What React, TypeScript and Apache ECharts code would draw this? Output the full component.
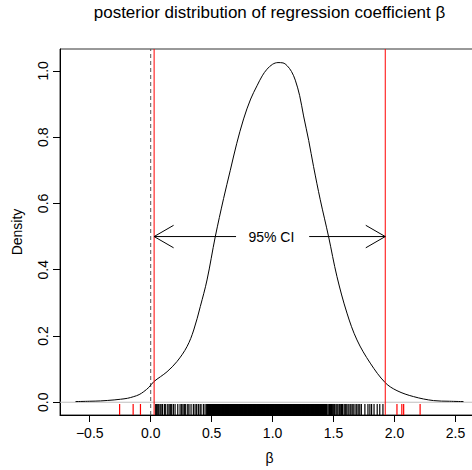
import React, { useEffect, useRef } from "react";
import * as echarts from "echarts";

// Density curve of posterior draws
const densityX = [-0.617, -0.5, -0.412, -0.3, -0.248, -0.19, -0.139, -0.095, -0.057, -0.015, 0.025, 0.08, 0.134, 0.216, 0.298, 0.353, 0.407, 0.462, 0.53, 0.598, 0.653, 0.705, 0.762, 0.82, 0.872, 0.915, 0.954, 1.0, 1.044, 1.085, 1.118, 1.155, 1.186, 1.222, 1.254, 1.296, 1.336, 1.391, 1.459, 1.528, 1.61, 1.692, 1.801, 1.924, 2.02, 2.156, 2.32, 2.45, 2.566];
const densityY = [0.002, 0.003, 0.004, 0.007, 0.009, 0.012, 0.017, 0.023, 0.032, 0.045, 0.062, 0.077, 0.092, 0.123, 0.168, 0.218, 0.289, 0.369, 0.5, 0.615, 0.7, 0.78, 0.855, 0.915, 0.955, 0.985, 1.005, 1.02, 1.025, 1.024, 1.016, 0.998, 0.972, 0.925, 0.864, 0.79, 0.711, 0.611, 0.5, 0.379, 0.269, 0.188, 0.118, 0.059, 0.035, 0.017, 0.005, 0.003, 0.002];

// 95% credible interval bounds
const ciBounds = [0.028, 1.924];
const ciLabel = "95% CI";
const ciArrowStart = [0.7, 1.3];
const ciArrowY = 0.5;
const ciLabelX = 0.99;
const nullValue = 0;

// Rug: draws inside the CI (black) and outside (red)
const rugSparseLow = [
  0.041, 0.049, 0.058, 0.066, 0.077, 0.085, 0.096, 0.112, 0.123, 0.14, 0.151, 0.161, 0.172, 0.186, 0.2, 0.222, 0.241, 0.254, 0.265, 0.276, 0.287, 0.304, 0.314, 0.331, 0.35, 0.364, 0.377, 0.391, 0.405, 0.413, 0.432, 0.446, 0.459,
];
const rugDense = [
  0.466, 0.469, 0.472, 0.476, 0.479, 0.483, 0.487, 0.49, 0.494, 0.497, 0.501, 0.505, 0.508, 0.512, 0.516, 0.519, 0.523, 0.527, 0.531, 0.534, 0.538, 0.541, 0.545, 0.549, 0.553, 0.556, 0.56, 0.563, 0.567, 0.571, 0.575, 0.578, 0.582, 0.586, 0.59, 0.593, 0.597, 0.6, 0.604, 0.608, 0.612, 0.615, 0.619, 0.622, 0.626, 0.63, 0.634, 0.637, 0.641, 0.645, 0.649, 0.652, 0.656, 0.659, 0.663, 0.667, 0.671, 0.674, 0.678, 0.682, 0.686, 0.689, 0.693, 0.696, 0.7, 0.704, 0.708, 0.711, 0.715, 0.718, 0.722, 0.726, 0.73, 0.733, 0.737, 0.741, 0.745, 0.748, 0.752, 0.755, 0.759, 0.763, 0.767, 0.77, 0.774, 0.777, 0.781, 0.785, 0.789, 0.792, 0.796, 0.8, 0.804, 0.807, 0.811, 0.814, 0.818, 0.822, 0.826, 0.829, 0.833, 0.837, 0.841, 0.844, 0.848, 0.851, 0.855, 0.859, 0.863, 0.866, 0.87, 0.873, 0.877, 0.881, 0.885, 0.888, 0.892, 0.896, 0.9, 0.903, 0.907, 0.91, 0.914, 0.918, 0.922, 0.925, 0.929, 0.932, 0.936, 0.94, 0.944, 0.947, 0.951, 0.955, 0.959, 0.962, 0.966, 0.969, 0.973, 0.977, 0.981, 0.984, 0.988, 0.992, 0.996, 0.999, 1.003, 1.006, 1.01, 1.014, 1.018, 1.021, 1.025, 1.028, 1.032, 1.036, 1.04, 1.043, 1.047, 1.051, 1.055, 1.058, 1.062, 1.065, 1.069, 1.073, 1.077, 1.08, 1.084, 1.087, 1.091, 1.095, 1.099, 1.102, 1.106, 1.11, 1.114, 1.117, 1.121, 1.124, 1.128, 1.132, 1.136, 1.139, 1.143, 1.146, 1.15, 1.154, 1.158, 1.161, 1.165, 1.169, 1.173, 1.176, 1.18, 1.183, 1.187, 1.191, 1.195, 1.198, 1.202, 1.205, 1.209, 1.213, 1.217, 1.22, 1.224, 1.228, 1.232, 1.235, 1.239, 1.242, 1.246, 1.25, 1.254, 1.257, 1.261, 1.264, 1.268, 1.272, 1.276, 1.279, 1.283, 1.287, 1.291, 1.294, 1.298, 1.301, 1.305, 1.309, 1.313, 1.316, 1.32, 1.323, 1.327, 1.331, 1.335, 1.338, 1.342, 1.346, 1.35, 1.353, 1.357, 1.36, 1.364, 1.368, 1.372, 1.375, 1.379, 1.382, 1.386, 1.39, 1.394, 1.397, 1.401, 1.405, 1.409, 1.412, 1.416, 1.419, 1.423, 1.427, 1.431, 1.434, 1.438, 1.442, 1.446,
];
const rugSparseHigh = [
  1.456, 1.466, 1.474, 1.483, 1.49, 1.501, 1.509, 1.52, 1.528, 1.536, 1.547, 1.555, 1.566, 1.574, 1.587, 1.596, 1.604, 1.618, 1.627, 1.641, 1.652, 1.661, 1.676, 1.69, 1.702, 1.715, 1.728,
  1.757, 1.782, 1.798, 1.812, 1.832, 1.858, 1.879, 1.905,
];
const rugOutside = [-0.255, -0.144, -0.084, 2.02, 2.06, 2.075, 2.21];

// Axis ticks
const xTicks = [-0.5, 0, 0.5, 1.0, 1.5, 2.0, 2.5];
const yTicks = [0, 0.2, 0.4, 0.6, 0.8, 1.0];

const titleText = "posterior distribution of regression coefficient \u03b2";
const xLabel = "\u03b2";
const yLabel = "Density";

const X_MIN = -0.744;
const X_MAX = 2.693;
const Y_MIN = -0.0385;
const Y_MAX = 1.066;

const FONT = "'Liberation Sans', Arial, Helvetica, sans-serif";
const GRID = { left: 60, top: 49, width: 419, height: 366 };

export default function App() {
  const ref = useRef<HTMLDivElement>(null);
  useEffect(() => {
    if (!ref.current) return;
    const chart = echarts.init(ref.current, undefined, { renderer: "svg" });

    const rugSeries = (values: number[], color: string, w: number) => ({
      type: "scatter",
      data: values.map((v) => [v, Y_MIN]),
      symbol: "rect",
      symbolSize: [w, 11],
      symbolOffset: [0, -5.5],
      itemStyle: { color, opacity: 1 },
      silent: true,
      large: false,
      progressive: 0,
      z: 4,
    });

    const vLine = (x: number, color: string, type: any, z: number) => ({
      type: "line",
      data: [
        [x, Y_MIN],
        [x, Y_MAX],
      ],
      showSymbol: false,
      symbol: "none",
      silent: true,
      lineStyle: { color, width: 1, type },
      z,
    });

    const arrowData = ciArrowStart.map((s, i) => [s, ciBounds[i], ciArrowY]);

    const option: any = {
      animation: false,
      backgroundColor: "#ffffff",
      textStyle: { fontFamily: FONT },
      grid: {
        ...GRID,
        show: true,
        borderColor: "#333",
        borderWidth: 1,
        backgroundColor: "transparent",
        containLabel: false,
        outerBoundsMode: "none",
      },
      xAxis: {
        type: "value",
        min: X_MIN,
        max: X_MAX,
        axisLine: { show: true, onZero: false, lineStyle: { color: "#000", width: 1 } },
        axisTick: { show: true, inside: false, length: 7, customValues: xTicks, lineStyle: { color: "#000" } },
        axisLabel: {
          show: true,
          customValues: xTicks,
          margin: 11,
          fontSize: 14,
          color: "#000",
          fontFamily: FONT,
          formatter: (v: number) => (v < 0 ? "\u2212" + Math.abs(v).toFixed(1) : v.toFixed(1)),
        },
        splitLine: { show: false },
      },
      yAxis: {
        type: "value",
        min: Y_MIN,
        max: Y_MAX,
        axisLine: { show: true, onZero: false, lineStyle: { color: "#000", width: 1 } },
        axisTick: { show: true, inside: false, length: 7, customValues: yTicks, lineStyle: { color: "#000" } },
        axisLabel: {
          show: true,
          customValues: yTicks,
          rotate: 90,
          margin: 10,
          fontSize: 14,
          color: "#000",
          fontFamily: FONT,
          formatter: (v: number) => v.toFixed(1),
        },
        splitLine: { show: false },
      },
      graphic: [
        {
          type: "text",
          x: 269.5,
          y: 12,
          style: { text: titleText, fontSize: 17, fontFamily: FONT, fill: "#000", align: "center", verticalAlign: "middle" },
        },
        {
          type: "text",
          x: 269.5,
          y: 458,
          style: { text: xLabel, fontSize: 14, fontFamily: FONT, fill: "#000", align: "center", verticalAlign: "middle" },
        },
        {
          type: "text",
          x: 16.5,
          y: 232,
          rotation: Math.PI / 2,
          style: { text: yLabel, fontSize: 14, fontFamily: FONT, fill: "#000", align: "center", verticalAlign: "middle" },
        },
      ],
      series: [
        {
          type: "line",
          data: [
            [X_MIN, 0],
            [X_MAX, 0],
          ],
          showSymbol: false,
          symbol: "none",
          silent: true,
          lineStyle: { color: "#bebebe", width: 1 },
          z: 1,
        },
        {
          type: "line",
          data: densityX.map((x, i) => [x, densityY[i]]),
          smooth: 0.35,
          showSymbol: false,
          symbol: "none",
          lineStyle: { color: "#000", width: 1 },
          z: 3,
        },
        vLine(nullValue, "#555", [4, 3], 2),
        vLine(ciBounds[0], "#ff0000", "solid", 4),
        vLine(ciBounds[1], "#ff0000", "solid", 4),
        rugSeries(rugSparseLow, "#000", 1.2),
        rugSeries(rugDense, "#000", 1.2),
        rugSeries(rugSparseHigh, "#000", 1.2),
        rugSeries(rugOutside, "#ff0000", 1.2),
        {
          type: "custom",
          data: arrowData,
          encode: { x: [0, 1], y: 2 },
          z: 5,
          silent: true,
          renderItem: (params: any, api: any) => {
            const p0 = api.coord([api.value(0), api.value(2)]);
            const p1 = api.coord([api.value(1), api.value(2)]);
            const ang = Math.atan2(p1[1] - p0[1], p1[0] - p0[0]);
            const L = 22.5;
            const a = Math.PI / 6;
            const h1 = [p1[0] - L * Math.cos(ang - a), p1[1] - L * Math.sin(ang - a)];
            const h2 = [p1[0] - L * Math.cos(ang + a), p1[1] - L * Math.sin(ang + a)];
            return {
              type: "group",
              children: [
                { type: "line", shape: { x1: p0[0], y1: p0[1], x2: p1[0], y2: p1[1] }, style: { stroke: "#000", lineWidth: 1 } },
                { type: "polyline", shape: { points: [h1, p1, h2] }, style: { stroke: "#000", lineWidth: 1, fill: "none" } },
              ],
            };
          },
        },
        {
          type: "custom",
          data: [[ciLabelX, ciArrowY]],
          encode: { x: 0, y: 1 },
          z: 5,
          silent: true,
          renderItem: (params: any, api: any) => {
            const p = api.coord([api.value(0), api.value(1)]);
            return {
              type: "text",
              x: p[0],
              y: p[1],
              style: { text: ciLabel, fontSize: 14, fontFamily: FONT, fill: "#000", align: "center", verticalAlign: "middle" },
            };
          },
        },
      ],
    };

    chart.setOption(option);
    return () => chart.dispose();
  }, []);

  return (
    <div style={{ position: "fixed", left: 0, top: 0, width: 472, height: 470, overflow: "hidden", background: "#fff" }}>
      <div ref={ref} style={{ position: "absolute", left: 0, top: 0, width: 500, height: 470 }} />
    </div>
  );
}
